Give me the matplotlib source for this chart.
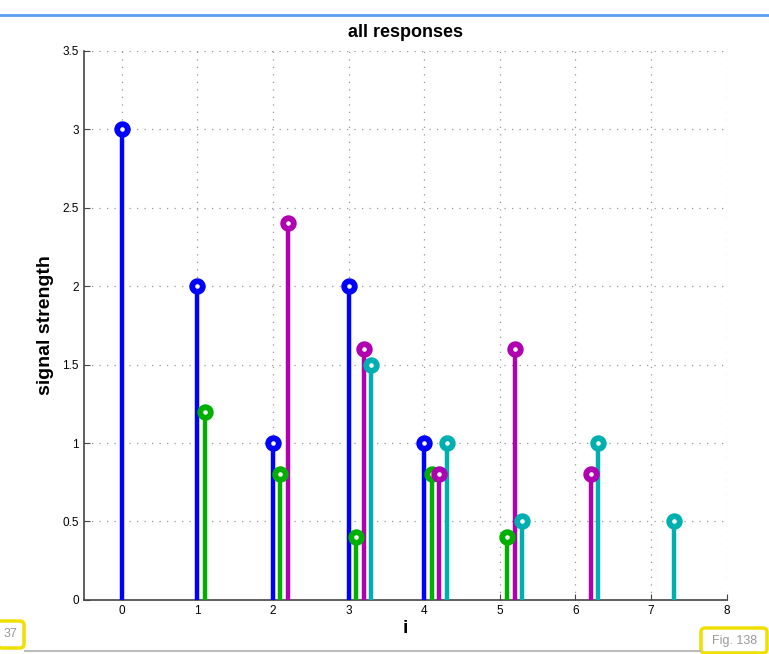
import matplotlib.pyplot as plt
from matplotlib.patches import FancyBboxPatch
from matplotlib.lines import Line2D

plt.rcParams['font.family'] = ['Liberation Sans', 'DejaVu Sans']

# four responses, each shifted by 0.1 along i
blue_x = [0, 1, 2, 3, 4]
blue_y = [3, 2, 1, 2, 1]
green_x = [1.1, 2.1, 3.1, 4.1, 5.1]
green_y = [1.2, 0.8, 0.4, 0.8, 0.4]
magenta_x = [2.2, 3.2, 4.2, 5.2, 6.2]
magenta_y = [2.4, 1.6, 0.8, 1.6, 0.8]
cyan_x = [3.3, 4.3, 5.3, 6.3, 7.3]
cyan_y = [1.5, 1.0, 0.5, 1.0, 0.5]

xticks = [0, 1, 2, 3, 4, 5, 6, 7, 8]
yticks = [0, 0.5, 1, 1.5, 2, 2.5, 3, 3.5]
ytick_labels = ['0', '0.5', '1', '1.5', '2', '2.5', '3', '3.5']

series = [
    (blue_x, blue_y, '#0000ff'),
    (green_x, green_y, '#00b000'),
    (magenta_x, magenta_y, '#b000b0'),
    (cyan_x, cyan_y, '#00b0b0'),
]

fig = plt.figure(figsize=(7.69, 6.54), dpi=100)
ax = fig.add_axes([0.109, 0.0826, 0.836, 0.84])

for xs, ys, c in series:
    ax.vlines(xs, 0, ys, colors=c, linewidth=3.2, zorder=3)
    ax.plot(xs, ys, 'o', color=c, markersize=7.6, markerfacecolor='white',
            markeredgewidth=4.2, zorder=4)

ax.set_xlim(-0.5, 8)
ax.set_ylim(0, 3.5)
ax.set_xticks(xticks)
ax.set_yticks(yticks)
ax.set_yticklabels(ytick_labels)
ax.grid(True, linestyle=(0, (1, 5)), color='#999999', linewidth=0.9)
ax.set_axisbelow(True)
for s in ['top', 'right']:
    ax.spines[s].set_visible(False)
for s in ['left', 'bottom']:
    ax.spines[s].set_color('#444444')
    ax.spines[s].set_linewidth(1.2)
ax.tick_params(direction='in', labelsize=8.5, length=4, color='#444444')

ax.set_title('all responses', fontsize=13, fontweight='bold', pad=10)
ax.set_xlabel('i', fontsize=14, fontweight='bold', labelpad=2)
ax.set_ylabel('signal strength', fontsize=14, fontweight='bold', labelpad=6)

# slide decorations around the figure
fig.add_artist(Line2D([0, 1], [1 - 15 / 654, 1 - 15 / 654], color='#5aa0f0', linewidth=2))
fig.add_artist(Line2D([25 / 769, 700 / 769], [3 / 654, 3 / 654], color='#bbbbbb', linewidth=1.5))
fig.add_artist(FancyBboxPatch((-4 / 769, 6 / 654), 28 / 769, 27 / 654,
                              boxstyle='round,pad=0,rounding_size=0.006',
                              transform=fig.transFigure, fill=False,
                              edgecolor='#f0e000', linewidth=2.5))
fig.text(11 / 769, 20 / 654, '37', color='#999999', fontsize=9, ha='center', va='center')
fig.add_artist(FancyBboxPatch((701 / 769, 1 / 654), 66 / 769, 25 / 654,
                              boxstyle='round,pad=0,rounding_size=0.006',
                              transform=fig.transFigure, fill=False,
                              edgecolor='#f0e000', linewidth=2.5))
fig.text(735 / 769, 13 / 654, 'Fig. 138', color='#999999', fontsize=9, ha='center', va='center')

fig.savefig('out.png', dpi=100)
